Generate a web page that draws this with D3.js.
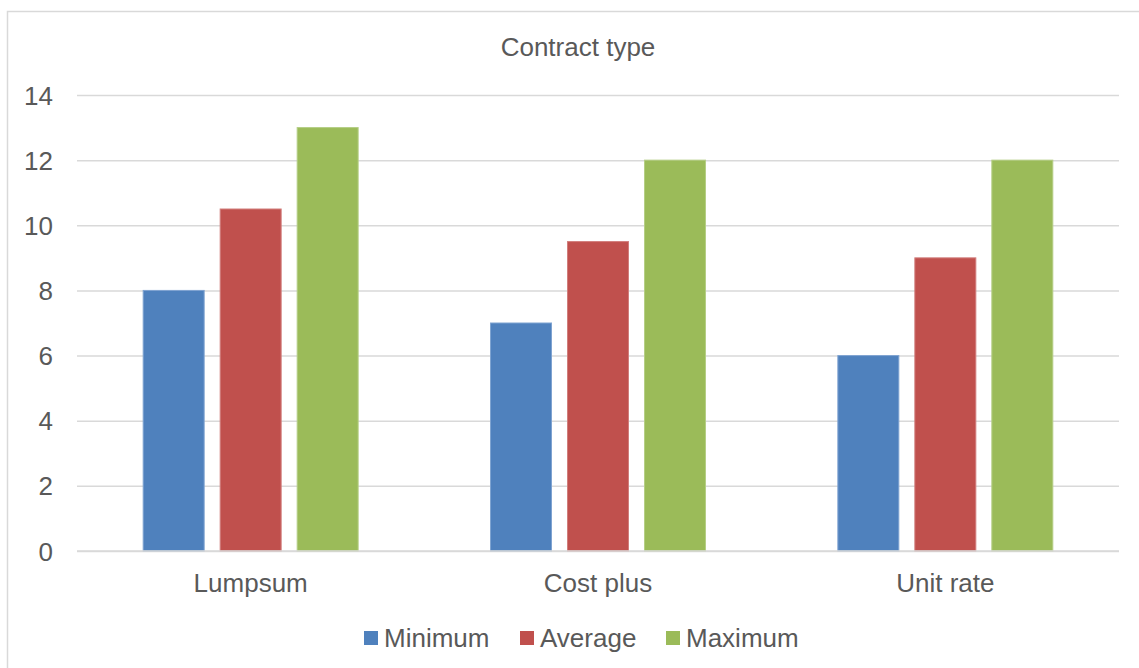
<!DOCTYPE html>
<html>
<head>
<meta charset="utf-8">
<script src="https://cdn.jsdelivr.net/npm/d3@7"></script>
<style>
  html, body { margin: 0; padding: 0; background: #fff; }
  svg { display: block; }
  text { font-family: "Liberation Sans", Arial, sans-serif; fill: #595959; }
</style>
</head>
<body>
<svg id="chart" width="1139" height="668"></svg>
<script>
// Chart data
const categories = ["Lumpsum", "Cost plus", "Unit rate"];
const seriesNames = ["Minimum", "Average", "Maximum"];
const minimum = [8, 7, 6];
const average = [10.5, 9.5, 9];
const maximum = [13, 12, 12];
const yTicks = [0, 2, 4, 6, 8, 10, 12, 14];
const title = "Contract type";

const seriesValues = [minimum, average, maximum];
const colors = ["#4F81BD", "#C0504D", "#9BBB59"];
const edgeColors = ["#7FA3D1", "#D17E7C", "#B5CE85"];

const svg = d3.select("#chart");

// chart frame
svg.append("rect")
  .attr("x", 7.5).attr("y", 11.5)
  .attr("width", 1150).attr("height", 680)
  .attr("fill", "#fff")
  .attr("stroke", "#D9D9D9").attr("stroke-width", 1.5);

const plotLeft = 77, plotRight = 1119, plotTop = 95, plotBottom = 551;

const x = d3.scaleBand().domain(categories).range([plotLeft, plotRight]);
const groupHalf = x.bandwidth() * 0.3325;
const xSub = d3.scaleBand().domain(seriesNames)
  .range([-groupHalf, groupHalf])
  .paddingInner(0.208).paddingOuter(0.104);
const y = d3.scaleLinear().domain([0, 14]).range([plotBottom, plotTop]);

// gridlines
const yAxis = d3.axisLeft(y).tickValues(yTicks).tickSize(-(plotRight - plotLeft)).tickPadding(24);
const gy = svg.append("g").attr("transform", `translate(${plotLeft},0)`).call(yAxis);
gy.select(".domain").remove();
gy.selectAll(".tick line").attr("stroke", "#D9D9D9").attr("stroke-width", 1.5);
gy.selectAll(".tick text")
  .attr("font-size", 26)
  .attr("font-family", "Liberation Sans, Arial, sans-serif")
  .attr("fill", "#595959")
  .attr("x", 53 - plotLeft)
  .attr("dy", "0.35em");

// bars
const rows = categories.map((c, i) => ({
  category: c,
  values: seriesNames.map((s, j) => ({ series: s, idx: j, value: seriesValues[j][i] }))
}));

const groups = svg.append("g").selectAll("g")
  .data(rows).join("g")
  .attr("transform", d => `translate(${x(d.category) + x.bandwidth() / 2},0)`);

groups.selectAll("rect")
  .data(d => d.values).join("rect")
  .attr("x", d => xSub(d.series))
  .attr("width", xSub.bandwidth())
  .attr("y", d => y(d.value))
  .attr("height", d => y(0) - y(d.value))
  .attr("fill", d => colors[d.idx])
  .attr("stroke", d => edgeColors[d.idx])
  .attr("stroke-width", 1);

// baseline
svg.append("line")
  .attr("x1", plotLeft).attr("x2", plotRight)
  .attr("y1", y(0)).attr("y2", y(0))
  .attr("stroke", "#D9D9D9").attr("stroke-width", 1.5);

// category labels
const xAxis = d3.axisBottom(x).tickSize(0).tickPadding(0);
const gx = svg.append("g").attr("transform", `translate(0,${plotBottom})`).call(xAxis);
gx.select(".domain").remove();
gx.selectAll(".tick text")
  .attr("font-size", 26)
  .attr("font-family", "Liberation Sans, Arial, sans-serif")
  .attr("fill", "#595959")
  .attr("y", 41)
  .attr("dy", 0);

// title
svg.append("text")
  .attr("x", 578).attr("y", 56)
  .attr("text-anchor", "middle")
  .attr("font-size", 26)
  .text(title);

// legend
const legendX = [364, 520, 666];
const legend = svg.append("g").selectAll("g")
  .data(seriesNames).join("g")
  .attr("transform", (d, i) => `translate(${legendX[i]},631)`);
legend.append("rect")
  .attr("width", 14).attr("height", 14)
  .attr("fill", (d, i) => colors[i]);
legend.append("text")
  .attr("x", 20).attr("y", 16)
  .attr("font-size", 26)
  .text(d => d);
</script>
</body>
</html>
